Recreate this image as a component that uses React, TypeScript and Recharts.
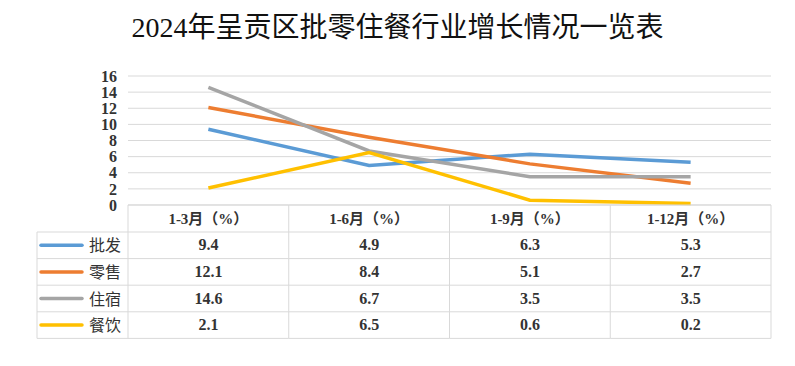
import { LineChart, Line, XAxis, YAxis, CartesianGrid } from "recharts";

const periods = ["1-3月（%）", "1-6月（%）", "1-9月（%）", "1-12月（%）"];
const seriesNames = ["批发", "零售", "住宿", "餐饮"];
const wholesale = [9.4, 4.9, 6.3, 5.3];
const retail = [12.1, 8.4, 5.1, 2.7];
const lodging = [14.6, 6.7, 3.5, 3.5];
const catering = [2.1, 6.5, 0.6, 0.2];
const yTicks = [0, 2, 4, 6, 8, 10, 12, 14, 16];

const seriesValues = [wholesale, retail, lodging, catering];
const colors = ["#5B9BD5", "#ED7D31", "#A5A5A5", "#FFC000"];
const keys = ["s0", "s1", "s2", "s3"];

const data = periods.map((p, i) => ({
  period: p,
  s0: wholesale[i],
  s1: retail[i],
  s2: lodging[i],
  s3: catering[i],
}));

const COL_W = 160.75;
const HEAD_H = 27;
const ROW_H = 26.6;
const LEFT_W = 91;
const GRID = "#d9d9d9";
const SERIF = '"Liberation Serif", "Noto Sans CJK SC", serif';

function TableColumn(props: any) {
  const { x, y, payload, index } = props;
  const top = y;
  const l = x - COL_W / 2;
  const r = x + COL_W / 2;
  const bottom = top + HEAD_H + ROW_H * 4;
  const rows = seriesValues.map((vals, ri) => {
    const rt = top + HEAD_H + ri * ROW_H;
    return (
      <g key={ri}>
        <line x1={l} x2={r} y1={rt} y2={rt} stroke={GRID} />
        <text x={x} y={rt + ROW_H / 2 + 5} textAnchor="middle" fontSize={16} fontWeight="bold" fill="#333" fontFamily={SERIF}>
          {vals[index].toFixed(1)}
        </text>
      </g>
    );
  });
  return (
    <g>
      <line x1={l} x2={r} y1={top} y2={top} stroke={GRID} />
      <line x1={r} x2={r} y1={top} y2={bottom} stroke={GRID} />
      <line x1={l} x2={r} y1={bottom} y2={bottom} stroke={GRID} />
      <text x={x} y={top + HEAD_H / 2 + 5} textAnchor="middle" fontSize={15} fontWeight="bold" fill="#333" fontFamily={SERIF}>
        {payload.value}
      </text>
      {rows}
      {index === 0 && (
        <g>
          <line x1={l} x2={l} y1={top} y2={bottom} stroke={GRID} />
          <line x1={l - LEFT_W} x2={l - LEFT_W} y1={top + HEAD_H} y2={bottom} stroke={GRID} />
          <line x1={l - LEFT_W} x2={l} y1={bottom} y2={bottom} stroke={GRID} />
          {seriesNames.map((name, ri) => {
            const rt = top + HEAD_H + ri * ROW_H;
            const cy = rt + ROW_H / 2;
            return (
              <g key={name}>
                <line x1={l - LEFT_W} x2={l} y1={rt} y2={rt} stroke={GRID} />
                <line x1={l - LEFT_W + 4} x2={l - LEFT_W + 45} y1={cy} y2={cy} stroke={colors[ri]} strokeWidth={3.5} strokeLinecap="round" />
                <text x={l - LEFT_W + 52} y={cy + 6} fontSize={16} fill="#333" fontFamily={SERIF}>
                  {name}
                </text>
              </g>
            );
          })}
        </g>
      )}
    </g>
  );
}

export default function App() {
  return (
    <div style={{ position: "absolute", left: 0, top: 0, width: 795, height: 366, background: "#fff" }}>
      <div
        style={{
          position: "absolute",
          left: 0,
          top: 10,
          width: 795,
          textAlign: "center",
          fontSize: 28,
          fontFamily: SERIF,
          color: "#111",
          lineHeight: "36px",
        }}
      >
        2024年呈贡区批零住餐行业增长情况一览表
      </div>
      <LineChart width={795} height={366} data={data} margin={{ top: 76, right: 24, bottom: 26, left: 68 }}>
        <CartesianGrid vertical={false} stroke={GRID} />
        <XAxis
          dataKey="period"
          height={135}
          axisLine={false}
          tickLine={false}
          tickSize={0}
          tickMargin={0}
          interval={0}
          padding={{ left: COL_W / 2, right: COL_W / 2 }}
          tick={<TableColumn />}
        />
        <YAxis
          width={60}
          domain={[0, 16]}
          ticks={yTicks}
          interval={0}
          axisLine={false}
          tickLine={false}
          tickSize={0}
          tickMargin={11}
          tick={{ fontSize: 16, fontWeight: "bold", fill: "#333", fontFamily: SERIF }}
        />
        {keys.map((k, i) => (
          <Line key={k} dataKey={k} name={seriesNames[i]} stroke={colors[i]} strokeWidth={3.5} dot={false} isAnimationActive={false} />
        ))}
      </LineChart>
    </div>
  );
}
